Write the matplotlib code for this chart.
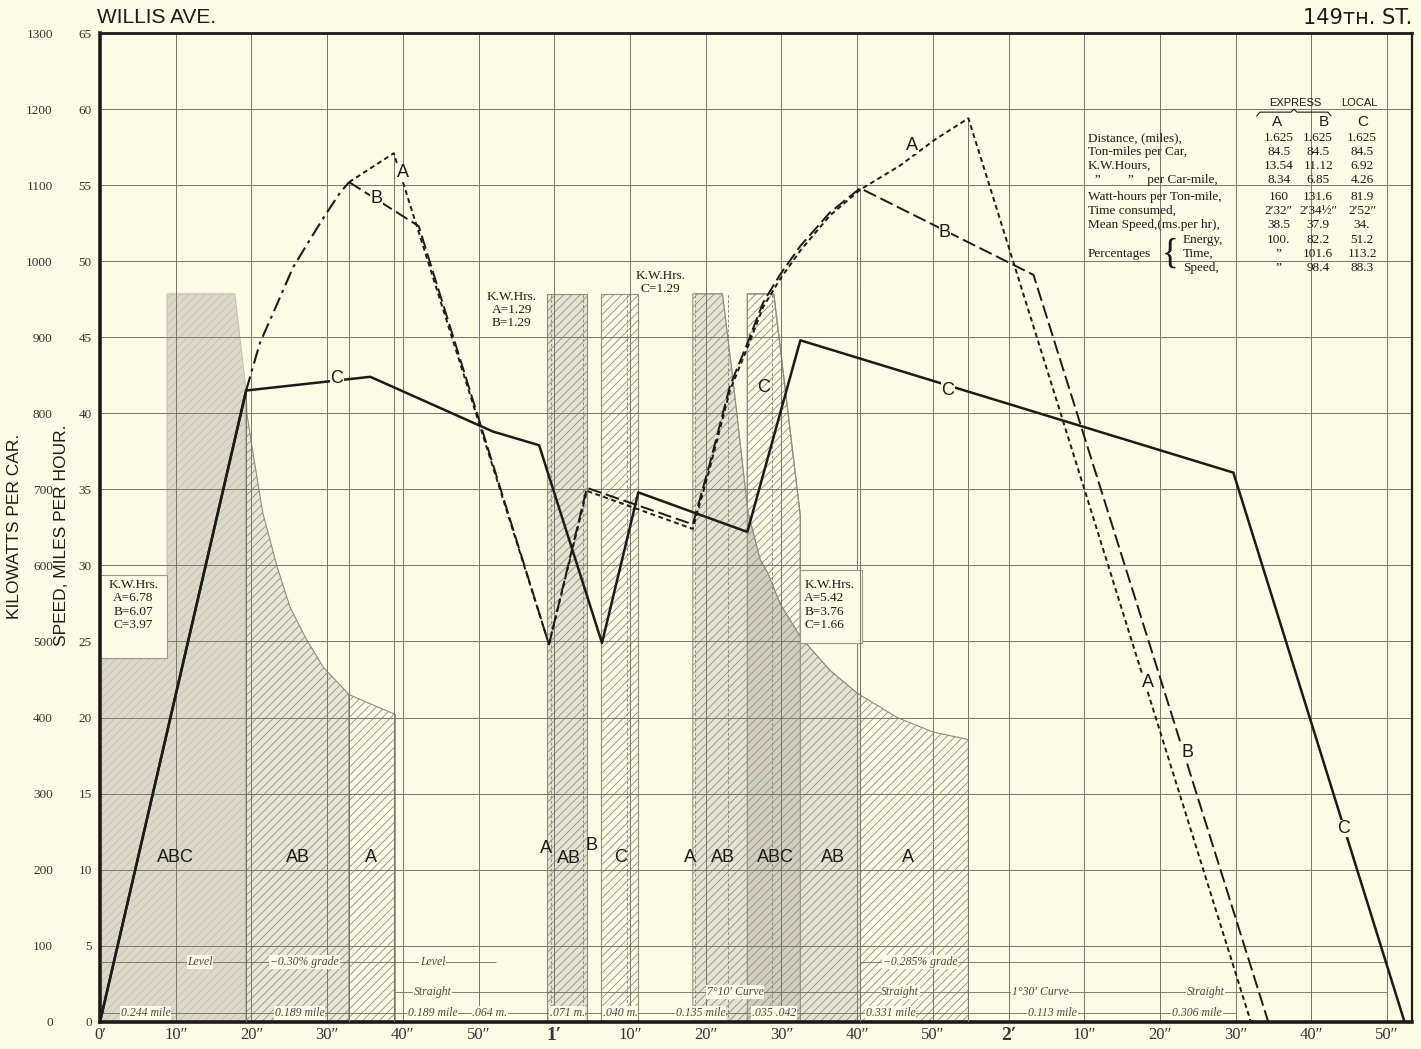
import numpy as np
import matplotlib.pyplot as plt
from matplotlib.patches import Rectangle

plt.rcParams['hatch.linewidth'] = 0.6

PAPER = '#fcfbe3'
INK = '#1c1b17'
GRID = '#77756a'
HATCH = '#8e8c7e'
SERIF = ['Liberation Serif', 'DejaVu Serif']
SANS = ['Liberation Sans', 'DejaVu Sans']

# ============================
# 1. Speed curves (seconds, miles per hour)
# ============================
start_t = [0, 19.3]
start_v = [0, 41.5]

# common acceleration of A and B (dash-dot)
rise_t = [19.3, 21.1, 23.4, 25.5, 27.7, 29.7, 31.7, 32.9]
rise_v = [41.5, 44.6, 47.2, 49.6, 51.4, 53.0, 54.5, 55.2]

a_t = [32.9, 38.8, 59.3, 64.3, 78.3, 80.6, 83.2, 85.5, 87.6, 89.8, 92.5, 96.4,
       100.4, 105.7, 110.3, 114.7, 152.0]
a_v = [55.2, 57.1, 24.8, 34.9, 32.4, 36.5, 41.5, 44.3, 47.0, 48.8, 50.7, 53.0,
       54.7, 56.3, 58.0, 59.4, 0]

b_t = [32.9, 42.1, 59.3, 64.3, 78.3, 80.6, 83.2, 85.5, 87.6, 89.8, 92.5, 96.4,
       100.4, 123.3, 154.3]
b_v = [55.2, 52.3, 24.8, 35.1, 32.7, 36.8, 41.8, 44.6, 47.3, 49.1, 51.0, 53.2,
       54.8, 49.1, 0]

c_t = [0, 19.3, 35.7, 51.9, 58.0, 66.3, 71.1, 85.5, 92.5, 149.7, 172.3]
c_v = [0, 41.5, 42.4, 38.8, 37.9, 24.9, 34.8, 32.2, 44.8, 36.1, 0]

# ============================
# 2. Power per car (kilowatts)
# ============================
abc1_t = [0, 0, 8.85, 8.85, 17.8, 19.3, 19.3]
abc1_kw = [0, 478, 478, 957, 957, 829, 0]

decay1_t = [19.3, 19.4, 20.2, 21.5, 23.4, 25.1, 27.3, 29.5, 32.9, 39.0]
decay1_kw = [829, 800, 748, 669, 598, 545, 502, 466, 430, 404]

bar_start = [59.0, 66.2]
bar_end = [64.3, 71.1]
bar_top = 957

decay2_t = [78.3, 82.2, 83.6, 84.9, 85.6, 87.2, 88.2, 89.8, 92.5, 96.4, 100.0,
            105.3, 110.0, 114.7]
decay2_kw = [957, 957, 844, 729, 669, 607, 590, 550, 506, 462, 432, 400, 381, 371]
ab2_span = (78.6, 100.4)
abc2_span = (85.5, 92.5)

cbar_t = [85.5, 85.5, 89.0, 92.5, 92.5]
cbar_kw = [0, 957, 957, 665, 0]

# ============================
# 3. Labels
# ============================
x_ticks = list(range(0, 171, 10))
x_labels = ['0′', '10″', '20″', '30″', '40″', '50″', '1′', '10″', '20″', '30″',
            '40″', '50″', '2′', '10″', '20″', '30″', '40″', '50″']

region_labels = ['ABC', 'AB', 'A', 'A', 'AB', 'B', 'C', 'A', 'AB', 'ABC', 'AB', 'A']
region_t = [9.9, 26.2, 35.8, 58.9, 62.0, 64.9, 68.7, 77.9, 82.3, 89.2, 96.8, 106.7]
region_v = [10.8, 10.8, 10.8, 11.4, 10.7, 11.6, 10.8, 10.8, 10.8, 10.8, 10.8, 10.8]

curve_labels = ['A', 'B', 'C', 'A', 'B', 'C', 'A', 'B', 'C']
curve_lab_t = [40.0, 36.5, 31.3, 107.3, 111.6, 112.0, 138.4, 143.6, 164.2]
curve_lab_v = [55.8, 54.1, 42.3, 57.6, 51.9, 41.5, 22.3, 17.7, 12.7]
c_rise_label = ('C', 87.6, 41.7)

grade_text = ['Level', '−0.30% grade', 'Level', '−0.285% grade']
grade_t = [13.2, 27.0, 43.9, 108.3]
curve_text = ['Straight', '7°10′ Curve', 'Straight', '1°30′ Curve', 'Straight']
curve_t = [43.9, 83.9, 105.7, 124.2, 146.0]
dist_text = ['0.244 mile', '0.189 mile', '0.189 mile', '.064 m.', '.071 m.',
             '.040 m.', '0.135 mile', '.035 .042', '0.331 mile', '0.113 mile',
             '0.306 mile']
dist_t = [6.0, 26.4, 43.9, 51.5, 61.7, 68.7, 79.3, 89.0, 104.4, 125.8, 144.9]

table_rows = ['Distance, (miles),', 'Ton-miles per Car,', 'K.W.Hours,',
              '  ”        ”    per Car-mile,', 'Watt-hours per Ton-mile,',
              'Time consumed,', 'Mean Speed,(ms.per hr),', 'Energy,', 'Time,', 'Speed,']
col_a = ['1.625', '84.5', '13.54', '8.34', '160', '2′32″', '38.5', '100.', '”', '”']
col_b = ['1.625', '84.5', '11.12', '6.85', '131.6', '2′34½″', '37.9', '82.2', '101.6', '98.4']
col_c = ['1.625', '84.5', '6.92', '4.26', '81.9', '2′52″', '34.', '51.2', '113.2', '88.3']

# ============================
# 4. Figure and axes
# ============================
fig = plt.figure(figsize=(14.21, 10.49), dpi=100, facecolor=PAPER)
ax = fig.add_axes([0.0704, 0.0260, 0.9233, 0.9425])   # kilowatts
ax.set_facecolor(PAPER)
ax.set_xlim(0, 173.3)
ax.set_ylim(0, 1300)
sp = ax.twinx()                                        # speed
sp.set_ylim(0, 65)

for s in sp.spines.values():
    s.set_visible(False)
ax.spines['left'].set_linewidth(2.6)
ax.spines['bottom'].set_linewidth(2.6)
ax.spines['top'].set_linewidth(2.0)
ax.spines['right'].set_linewidth(1.6)
for s in ax.spines.values():
    s.set_color(INK)
    s.set_zorder(10)

ax.set_yticks(range(0, 1301, 100))
ax.tick_params(axis='y', length=0, pad=34, labelsize=9.5)
sp.set_yticks(range(0, 66, 5))
sp.yaxis.tick_left()
sp.tick_params(axis='y', length=0, pad=6, labelsize=9.5)
for lab in ax.get_yticklabels() + sp.get_yticklabels():
    lab.set_family(SERIF)
    lab.set_color('#333')

ax.set_xticks(x_ticks)
ax.set_xticklabels(x_labels)
ax.tick_params(axis='x', length=0, pad=4, labelsize=12)
for lab in ax.get_xticklabels():
    lab.set_family(SERIF)
    lab.set_color('#333')
    if lab.get_text() in ('1′', '2′'):
        lab.set_fontweight('bold')
        lab.set_fontsize(14)

# grid
ax.hlines(range(100, 1300, 100), 0, 173.3, color=GRID, lw=0.7, zorder=2)
ax.vlines(range(10, 171, 10), 0, 1300, color=GRID, lw=0.7, zorder=2)

# ============================
# 5. Power areas
# ============================
ax.fill(abc1_t, abc1_kw, facecolor='#dcdac7', edgecolor='#c3c1ae', hatch='////',
        lw=0.8, zorder=1)

d1t = np.array(decay1_t)
ax.fill_between(decay1_t, 0, decay1_kw, where=d1t <= 32.9, facecolor='#e9e7d3',
                edgecolor=HATCH, hatch='////', lw=0.8, zorder=1)
ax.fill_between(decay1_t, 0, decay1_kw, where=d1t >= 32.9, facecolor=PAPER,
                edgecolor=HATCH, hatch='////', lw=0.8, zorder=1)

ax.bar(bar_start, bar_top, width=np.array(bar_end) - np.array(bar_start),
       align='edge', color=['#e6e4d1', PAPER], edgecolor=HATCH, hatch='////',
       lw=0.8, zorder=1)

ax.fill_between(decay2_t, 0, decay2_kw, facecolor=PAPER, edgecolor=HATCH,
                hatch='////', lw=0.8, zorder=1)
ax.fill(cbar_t, cbar_kw, facecolor=PAPER, edgecolor=HATCH, hatch='////',
        lw=0.8, zorder=1)
for span, face in [(ab2_span, '#e6e4d1'), (abc2_span, '#d2d0bd')]:
    poly = ax.fill_between(decay2_t, 0, decay2_kw, facecolor=face, edgecolor=HATCH,
                           hatch='////', lw=0.8, zorder=1.2)
    poly.set_clip_path(Rectangle((span[0], 0), span[1] - span[0], 1300,
                                 transform=ax.transData))
ax.fill(cbar_t, cbar_kw, facecolor='none', edgecolor=HATCH, lw=0.8, zorder=1.3)

# inner dashed boundaries
ax.vlines([59.6, 63.8, 69.6, 78.6, 83.0, 88.8, 100.4], 0, 957, color=HATCH,
          lw=0.7, linestyles=(0, (3, 2)), zorder=1.5)

# K.W.Hrs boxes
ax.add_patch(Rectangle((0, 478), 8.85, 110, facecolor=PAPER, edgecolor='#9a988a',
                       lw=0.8, zorder=3))
ax.add_patch(Rectangle((92.5, 498), 8.2, 96, facecolor=PAPER, edgecolor='#9a988a',
                       lw=0.8, zorder=3))

# ============================
# 6. Speed lines
# ============================
guide_t = [19.3, 32.9, 38.8, 100.4, 114.7]
guide_top = [np.interp(19.3, c_t, c_v), np.interp(32.9, a_t, a_v),
             np.interp(38.8, a_t, a_v), np.interp(100.4, b_t, b_v),
             np.interp(114.7, a_t, a_v)]
sp.vlines(guide_t, 0, guide_top, color=GRID, lw=0.7, zorder=1)

sp.plot(start_t, start_v, color=INK, lw=1.8, zorder=5)
sp.plot(rise_t, rise_v, color=INK, lw=1.5, dashes=(7, 2.5, 1.5, 2.5), zorder=5)
sp.plot(a_t, a_v, color=INK, lw=1.4, dashes=(2.5, 1.8), zorder=5)
sp.plot(b_t, b_v, color=INK, lw=1.4, dashes=(7, 2.5), zorder=5)
sp.plot(c_t, c_v, color=INK, lw=1.8, zorder=5)

for lab, t, v in zip(curve_labels, curve_lab_t, curve_lab_v):
    sp.text(t, v, lab, fontsize=13, family=SANS, color=INK, ha='center',
            va='center', zorder=6,
            bbox=dict(facecolor=PAPER, edgecolor='none', pad=0.3))
sp.text(c_rise_label[1], c_rise_label[2], c_rise_label[0], fontsize=13, family=SANS,
        color=INK, ha='center', va='center', zorder=6)

for lab, t, v in zip(region_labels, region_t, region_v):
    sp.text(t, v, lab, fontsize=13, family=SANS, color=INK, ha='center',
            va='center', zorder=6)

# ============================
# 7. Track profile rows
# ============================
row_style = dict(color='#6d6b60', lw=0.6, zorder=4)
sp.hlines([3.93, 3.93], [0, 100.4], [52.3, 170.0], **row_style)
sp.hlines(1.96, 39.0, 170.0, **row_style)
sp.hlines(0.57, 0, 150.0, **row_style)
txt_style = dict(fontsize=8.5, family=SERIF, style='italic', color='#4a4840',
                 ha='center', va='center', zorder=6)
for s, t in zip(grade_text, grade_t):
    sp.text(t, 3.93, s, bbox=dict(facecolor=PAPER, edgecolor='none', pad=0.5), **txt_style)
for s, t in zip(curve_text, curve_t):
    sp.text(t, 1.96, s, bbox=dict(facecolor=PAPER, edgecolor='none', pad=0.5), **txt_style)
for s, t in zip(dist_text, dist_t):
    sp.text(t, 0.57, s, bbox=dict(facecolor=PAPER, edgecolor='none', pad=0.5), **txt_style)

# ============================
# 8. Energy notes
# ============================
kw_style = dict(fontsize=9.5, family=SERIF, color=INK, linespacing=1.15, zorder=6)
sp.text(4.4, 27.4, 'K.W.Hrs.\nA=6.78\nB=6.07\nC=3.97', ha='center', va='center', **kw_style)
sp.text(54.4, 46.8, 'K.W.Hrs.\nA=1.29\nB=1.29', ha='center', va='center', **kw_style)
sp.text(74.0, 48.6, 'K.W.Hrs.\nC=1.29', ha='center', va='center', **kw_style)
sp.text(93.0, 27.4, 'K.W.Hrs.\nA=5.42\nB=3.76\nC=1.66', ha='left', va='center', **kw_style)

# ============================
# 9. Summary table
# ============================
row_v = [58.09, 57.17, 56.25, 55.33, 54.21, 53.29, 52.37, 51.38, 50.46, 49.54]
tab_style = dict(fontsize=9.5, family=SERIF, color=INK, va='center', zorder=6)
for i, (name, a, b, c) in enumerate(zip(table_rows, col_a, col_b, col_c)):
    x0 = 143.0 if i >= 7 else 130.5
    sp.text(x0, row_v[i], name, ha='left', **tab_style)
    sp.text(155.7, row_v[i], a, ha='center', **tab_style)
    sp.text(160.9, row_v[i], b, ha='center', **tab_style)
    sp.text(166.7, row_v[i], c, ha='center', **tab_style)
sp.text(130.5, row_v[8], 'Percentages', ha='left', **tab_style)
sp.text(142.4, row_v[8], '{', ha='right', fontsize=25, family=SERIF, color=INK,
        va='center', zorder=6)
sp.text(157.9, 60.4, 'EXPRESS', ha='center', va='center', fontsize=8,
        family=SANS, color=INK, zorder=6)
sp.text(166.4, 60.4, 'LOCAL', ha='center', va='center', fontsize=8,
        family=SANS, color=INK, zorder=6)
for s, t in zip(['A', 'B', 'C'], [155.5, 161.6, 166.8]):
    sp.text(t, 59.15, s, ha='center', va='center', fontsize=11, family=SANS,
            color=INK, zorder=6)
sp.plot([152.8, 153.2, 157.3, 157.7, 158.1, 162.2, 162.6],
        [59.55, 59.8, 59.8, 60.0, 59.8, 59.8, 59.55], color=INK, lw=0.8, zorder=6)

# ============================
# 10. Titles
# ============================
fig.text(0.0683, 0.983, 'WILLIS AVE.', fontsize=15, family=SANS, color=INK,
         ha='left', va='center')
fig.text(0.9937, 0.983, '149ᴛʜ. ST.', fontsize=15, family=['DejaVu Sans'], color=INK,
         ha='right', va='center')
fig.text(15 / 1421, 1 - 526 / 1049, 'KILOWATTS PER CAR.', fontsize=12.5, family=SANS,
         color=INK, rotation=90, ha='center', va='center')
fig.text(62 / 1421, 1 - 535 / 1049, 'SPEED, MILES PER HOUR.', fontsize=12.5,
         family=SANS, color=INK, rotation=90, ha='center', va='center')

fig.savefig('out.png', dpi=100, facecolor=PAPER)
